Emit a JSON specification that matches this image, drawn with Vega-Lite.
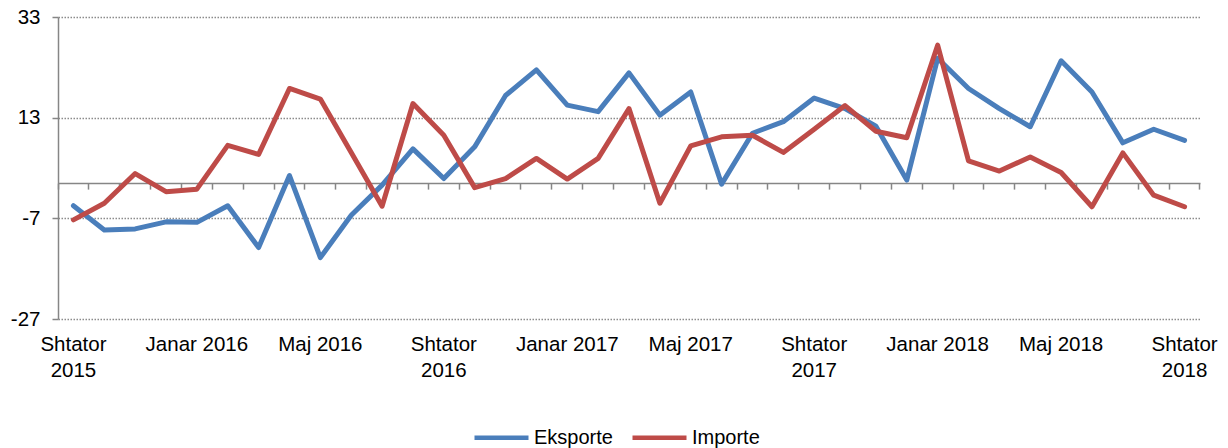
{
  "$schema": "https://vega.github.io/schema/vega-lite/v6.json",
  "width": 1142,
  "height": 302,
  "autosize": {"type": "none"},
  "padding": {"left": 58, "top": 17, "right": 28, "bottom": 129},
  "config": {
    "font": "Liberation Sans",
    "view": {"stroke": null},
    "axis": {"labelFont": "Liberation Sans", "labelColor": "#000000"},
    "legend": {"labelFont": "Liberation Sans", "labelColor": "#000000"}
  },
  "data": {
    "values": [
      {"muaji": "Shtator 2015", "Eksporte": -4.5, "Importe": -7.3},
      {"muaji": "Tetor 2015", "Eksporte": -9.3, "Importe": -4.0},
      {"muaji": "Nëntor 2015", "Eksporte": -9.1, "Importe": 1.9},
      {"muaji": "Dhjetor 2015", "Eksporte": -7.7, "Importe": -1.7},
      {"muaji": "Janar 2016", "Eksporte": -7.8, "Importe": -1.2},
      {"muaji": "Shkurt 2016", "Eksporte": -4.5, "Importe": 7.5},
      {"muaji": "Mars 2016", "Eksporte": -12.8, "Importe": 5.7},
      {"muaji": "Prill 2016", "Eksporte": 1.5, "Importe": 18.8},
      {"muaji": "Maj 2016", "Eksporte": -14.8, "Importe": 16.7},
      {"muaji": "Qershor 2016", "Eksporte": -6.4, "Importe": 6.1},
      {"muaji": "Korrik 2016", "Eksporte": -0.4, "Importe": -4.6},
      {"muaji": "Gusht 2016", "Eksporte": 6.8, "Importe": 15.8},
      {"muaji": "Shtator 2016", "Eksporte": 0.9, "Importe": 9.5},
      {"muaji": "Tetor 2016", "Eksporte": 7.2, "Importe": -0.9},
      {"muaji": "Nëntor 2016", "Eksporte": 17.4, "Importe": 0.9},
      {"muaji": "Dhjetor 2016", "Eksporte": 22.5, "Importe": 4.9},
      {"muaji": "Janar 2017", "Eksporte": 15.5, "Importe": 0.8},
      {"muaji": "Shkurt 2017", "Eksporte": 14.2, "Importe": 4.9},
      {"muaji": "Mars 2017", "Eksporte": 21.9, "Importe": 14.8},
      {"muaji": "Prill 2017", "Eksporte": 13.5, "Importe": -4.0},
      {"muaji": "Maj 2017", "Eksporte": 18.1, "Importe": 7.4},
      {"muaji": "Qershor 2017", "Eksporte": -0.2, "Importe": 9.2},
      {"muaji": "Korrik 2017", "Eksporte": 9.9, "Importe": 9.5},
      {"muaji": "Gusht 2017", "Eksporte": 12.2, "Importe": 6.1},
      {"muaji": "Shtator 2017", "Eksporte": 16.9, "Importe": 10.7},
      {"muaji": "Tetor 2017", "Eksporte": 14.8, "Importe": 15.4},
      {"muaji": "Nëntor 2017", "Eksporte": 11.3, "Importe": 10.3},
      {"muaji": "Dhjetor 2017", "Eksporte": 0.6, "Importe": 9.0},
      {"muaji": "Janar 2018", "Eksporte": 24.8, "Importe": 27.4},
      {"muaji": "Shkurt 2018", "Eksporte": 18.8, "Importe": 4.4},
      {"muaji": "Mars 2018", "Eksporte": 14.8, "Importe": 2.4},
      {"muaji": "Prill 2018", "Eksporte": 11.2, "Importe": 5.2},
      {"muaji": "Maj 2018", "Eksporte": 24.3, "Importe": 2.1},
      {"muaji": "Qershor 2018", "Eksporte": 18.1, "Importe": -4.7},
      {"muaji": "Korrik 2018", "Eksporte": 8.0, "Importe": 6.0},
      {"muaji": "Gusht 2018", "Eksporte": 10.7, "Importe": -2.4},
      {"muaji": "Shtator 2018", "Eksporte": 8.5, "Importe": -4.7}
    ]
  },
  "layer": [
    {
      "mark": {"type": "line", "strokeWidth": 5, "strokeJoin": "round", "strokeCap": "round"},
      "encoding": {
        "x": {
          "field": "muaji", "type": "ordinal", "sort": null, "bandPosition": 0.5,
          "scale": {"type": "band", "paddingInner": 0, "paddingOuter": 0},
          "axis": {
            "orient": "bottom", "title": null, "domain": false, "ticks": false, "grid": false,
            "values": ["Shtator 2015", "Janar 2016", "Maj 2016", "Shtator 2016", "Janar 2017", "Maj 2017", "Shtator 2017", "Janar 2018", "Maj 2018", "Shtator 2018"],
            "labelExpr": "indexof(datum.label, 'Shtator') == 0 ? split(datum.label, ' ') : datum.label",
            "labelAngle": 0, "labelFontSize": 20.5, "labelPadding": 15, "labelLineHeight": 26,
            "labelBaseline": "top", "labelAlign": "center", "labelOverlap": false, "labelBound": false,
            "bandPosition": 0.5
          }
        },
        "y": {
          "field": "Eksporte", "type": "quantitative",
          "scale": {"domain": [-27, 33], "nice": false, "zero": false},
          "axis": {
            "title": null, "values": [-27, -7, 13, 33], "labelExpr": "'' + datum.value",
            "grid": true, "gridDash": [1.5, 1.5],
            "gridColor": "#8c8c8c", "gridWidth": 1.3, "domainColor": "#868686", "domainWidth": 1.5,
            "tickColor": "#868686", "tickSize": 6, "tickWidth": 1.5, "labelFontSize": 20.5, "labelPadding": 12
          }
        },
        "color": {
          "datum": "Eksporte", "type": "nominal",
          "scale": {"domain": ["Eksporte", "Importe"], "range": ["#4A7EBB", "#BE4B48"]},
          "legend": {
            "orient": "none", "legendX": 414, "legendY": 391, "direction": "horizontal", "title": null,
            "symbolType": "stroke", "symbolSize": 2916, "symbolStrokeWidth": 4.5,
            "labelFontSize": 20, "labelOffset": 3, "columnPadding": 10, "padding": 0
          }
        }
      }
    },
    {
      "mark": {"type": "line", "strokeWidth": 5, "strokeJoin": "round", "strokeCap": "round"},
      "encoding": {
        "x": {
          "field": "muaji", "type": "ordinal", "sort": null, "bandPosition": 0.5,
          "scale": {"type": "band", "paddingInner": 0, "paddingOuter": 0},
          "axis": {
            "orient": "bottom", "title": null, "offset": -135.9, "labels": false, "grid": false,
            "domain": true, "domainColor": "#868686", "domainWidth": 1.5,
            "ticks": true, "tickSize": 6, "tickColor": "#868686", "tickWidth": 1.5,
            "bandPosition": 1, "tickExtra": true
          }
        },
        "y": {
          "field": "Importe", "type": "quantitative",
          "scale": {"domain": [-27, 33], "nice": false, "zero": false},
          "axis": {
            "title": null, "values": [-27, -7, 13, 33], "labelExpr": "'' + datum.value",
            "grid": true, "gridDash": [1.5, 1.5],
            "gridColor": "#8c8c8c", "gridWidth": 1.3, "domainColor": "#868686", "domainWidth": 1.5,
            "tickColor": "#868686", "tickSize": 6, "tickWidth": 1.5, "labelFontSize": 20.5, "labelPadding": 12
          }
        },
        "color": {"datum": "Importe", "type": "nominal"}
      }
    }
  ],
  "resolve": {"axis": {"x": "independent"}}
}
